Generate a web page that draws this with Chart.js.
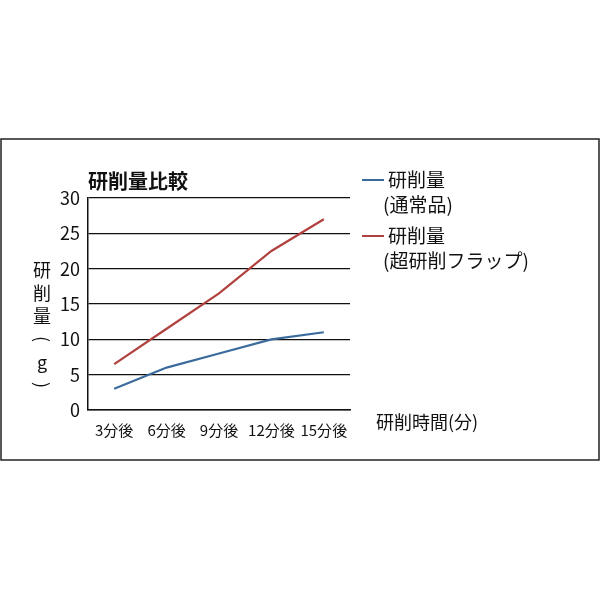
<!DOCTYPE html>
<html lang="ja">
<head>
<meta charset="UTF-8">
<title>研削量比較</title>
<script src="https://cdn.jsdelivr.net/npm/chart.js@4.4.0/dist/chart.umd.min.js"></script>
</head>
<body style="margin:0;background:#fff;">
<div style="width:600px;height:600px;"><canvas id="myChart" width="600" height="600"></canvas></div>
<script>
var categories = ['3分後', '6分後', '9分後', '12分後', '15分後'];
var normalValues = [3, 6, 8, 10, 11];
var flapValues = [6.5, 11.5, 16.5, 22.5, 27];
var yTicks = [0, 5, 10, 15, 20, 25, 30];
var font = '"Noto Sans CJK JP", sans-serif';

var decor = {
    id: 'decor',
    afterDraw: function (chart) {
        var c = chart.ctx;
        c.save();
        c.strokeStyle = '#222';
        c.lineWidth = 1.5;
        c.strokeRect(1, 139, 598, 321);
        c.fillStyle = '#111';
        c.textBaseline = 'middle';
        c.font = 'bold 20px ' + font;
        c.fillText('研削量比較', 88, 181);
        c.font = '18px ' + font;
        // y title, vertical
        var yt = ['研', '削', '量', '(', 'g', ')'];
        c.textAlign = 'center';
        for (var i = 0; i < yt.length; i++) {
            c.save();
            c.translate(42, 270 + i * 23);
            if (yt[i] == '(' || yt[i] == ')') c.rotate(Math.PI / 2);
            c.fillText(yt[i], 0, 0);
            c.restore();
        }
        c.textAlign = 'left';
        c.fillText('研削時間(分)', 376, 422);
        // legend
        c.font = '19px ' + font;
        var items = [['研削量', '(通常品)', '#3a6b9c'], ['研削量', '(超研削フラップ)', '#b0413e']];
        for (var j = 0; j < items.length; j++) {
            var y0 = 180 + j * 56;
            c.strokeStyle = items[j][2];
            c.lineWidth = 2;
            c.beginPath();
            c.moveTo(362, y0);
            c.lineTo(384, y0);
            c.stroke();
            c.fillText(items[j][0], 388, y0);
            c.fillText(items[j][1], 383, y0 + 25);
        }
        c.restore();
    }
};

new Chart(document.getElementById('myChart'), {
    type: 'line',
    data: {
        labels: categories,
        datasets: [
            { label: '研削量(通常品)', data: normalValues, borderColor: '#3a6b9c', borderWidth: 2.2, pointRadius: 0, tension: 0 },
            { label: '研削量(超研削フラップ)', data: flapValues, borderColor: '#b0413e', borderWidth: 2.2, pointRadius: 0, tension: 0 }
        ]
    },
    options: {
        responsive: false,
        animation: false,
        layout: { padding: { left: 0, right: 250, top: 198, bottom: 160 } },
        plugins: { legend: { display: false }, tooltip: { enabled: false } },
        scales: {
            x: {
                offset: true,
                grid: { display: false },
                border: { display: true, color: '#111', width: 1.5 },
                ticks: { color: '#111', font: { family: font, size: 15 }, maxRotation: 0, autoSkip: false },
                afterFit: function (a) { a.height = 30; }
            },
            y: {
                min: 0, max: 30,
                afterBuildTicks: function (a) { a.ticks = yTicks.map(function (v) { return { value: v }; }); },
                grid: { color: '#111', lineWidth: 1.3, drawTicks: false },
                border: { display: true, color: '#111', width: 1.5 },
                ticks: { color: '#111', padding: 8, font: { family: font, size: 18 } },
                afterFit: function (a) { a.width = 88; }
            }
        }
    },
    plugins: [decor]
});
</script>
</body>
</html>
